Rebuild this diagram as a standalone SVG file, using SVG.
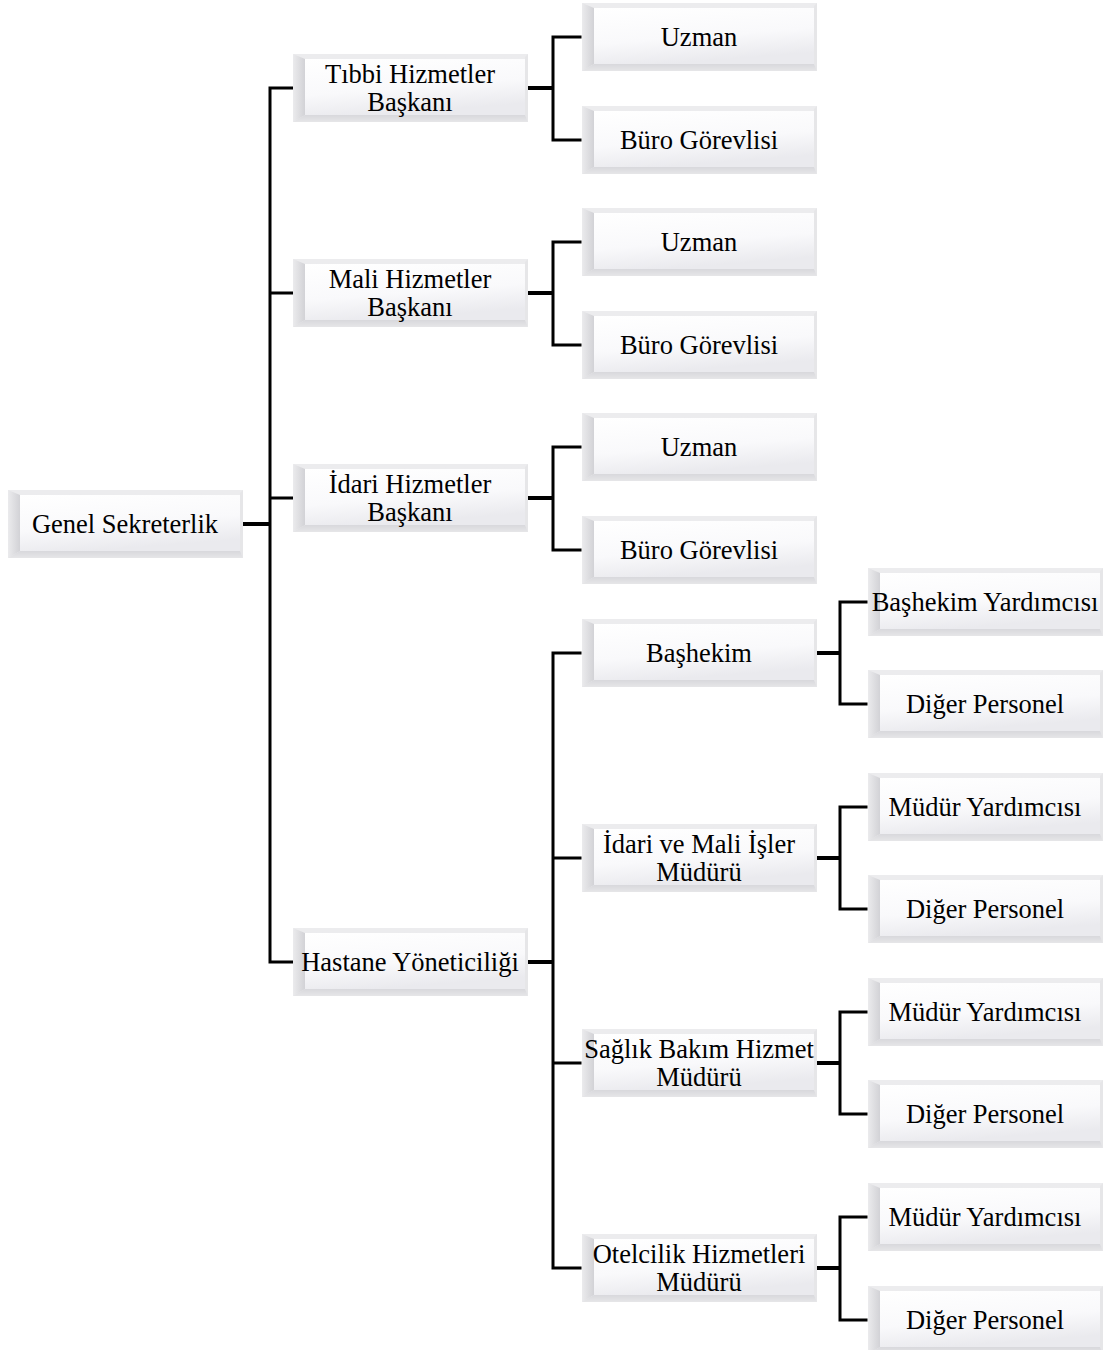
<svg xmlns="http://www.w3.org/2000/svg" xmlns:xlink="http://www.w3.org/1999/xlink" width="1105" height="1350" viewBox="0 0 1105 1350">
<style>
text{font-family:"Liberation Serif","Times New Roman",serif;font-size:26.5px;fill:#000;text-anchor:middle}
.c{fill:none;stroke:#000;stroke-width:3;stroke-linecap:square}
.t{fill:none;stroke:#000;stroke-width:4}
</style>
<defs>
<linearGradient id="face" x1="0" y1="0" x2="0.3" y2="1">
<stop offset="0" stop-color="#ffffff"/><stop offset="0.6" stop-color="#f9f9fb"/><stop offset="1" stop-color="#eaeaee"/>
</linearGradient>
<linearGradient id="lb" x1="0" y1="0" x2="1" y2="0">
<stop offset="0" stop-color="#ebebed"/><stop offset="1" stop-color="#d2d2d6"/>
</linearGradient>
<linearGradient id="bb" x1="0" y1="0" x2="0" y2="1">
<stop offset="0" stop-color="#d8d8dc"/><stop offset="1" stop-color="#e6e6e8"/>
</linearGradient>
<g id="box">
<rect x="0" y="0" width="235" height="68" fill="#ececee"/>
<polygon points="0,0 235,0 232,3 12,5" fill="#ececee"/>
<polygon points="0,0 12,5 12,61 0,68" fill="url(#lb)"/>
<polygon points="235,0 235,68 232,61 232,3" fill="#e6e6e8"/>
<polygon points="0,68 235,68 232,61 12,61" fill="url(#bb)"/>
<rect x="12" y="5" width="220" height="56" fill="url(#face)"/>
</g>
</defs>
<g id="connectors">
<path class="t" d="M243,524H270M528,88H553M528,293H553M528,498H553M528,962H553M817,653H840M817,858H840M817,1063H840M817,1268H840"/>
<path class="c" d="M270,88V962M270,88H293M270,293H293M270,498H293M270,962H293"/>
<path class="c" d="M553,37V140M553,37H580M553,140H580"/>
<path class="c" d="M553,242V345M553,242H580M553,345H580"/>
<path class="c" d="M553,447V550M553,447H580M553,550H580"/>
<path class="c" d="M553,653V1268M553,653H580M553,858H580M553,1063H580M553,1268H580"/>
<path class="c" d="M840,602V704M840,602H866M840,704H866"/>
<path class="c" d="M840,807V909M840,807H866M840,909H866"/>
<path class="c" d="M840,1012V1114M840,1012H866M840,1114H866"/>
<path class="c" d="M840,1217V1320M840,1217H866M840,1320H866"/>
</g>
<g id="n-genel"><use href="#box" x="8" y="490"/><text x="125" y="533">Genel Sekreterlik</text></g>
<g id="n-tibbi"><use href="#box" x="293" y="54"/><text x="410" y="83">Tıbbi Hizmetler</text><text x="410" y="111">Başkanı</text></g>
<g id="n-mali"><use href="#box" x="293" y="259"/><text x="410" y="288">Mali Hizmetler</text><text x="410" y="316">Başkanı</text></g>
<g id="n-idari"><use href="#box" x="293" y="464"/><text x="410" y="493">İdari Hizmetler</text><text x="410" y="521">Başkanı</text></g>
<g id="n-hastane"><use href="#box" x="293" y="928"/><text x="410" y="971">Hastane Yöneticiliği</text></g>
<g id="n-uzman1"><use href="#box" x="582" y="3"/><text x="699" y="46">Uzman</text></g>
<g id="n-buro1"><use href="#box" x="582" y="106"/><text x="699" y="149">Büro Görevlisi</text></g>
<g id="n-uzman2"><use href="#box" x="582" y="208"/><text x="699" y="251">Uzman</text></g>
<g id="n-buro2"><use href="#box" x="582" y="311"/><text x="699" y="354">Büro Görevlisi</text></g>
<g id="n-uzman3"><use href="#box" x="582" y="413"/><text x="699" y="456">Uzman</text></g>
<g id="n-buro3"><use href="#box" x="582" y="516"/><text x="699" y="559">Büro Görevlisi</text></g>
<g id="n-bashekim"><use href="#box" x="582" y="619"/><text x="699" y="662">Başhekim</text></g>
<g id="n-idarimali"><use href="#box" x="582" y="824"/><text x="699" y="853">İdari ve Mali İşler</text><text x="699" y="881">Müdürü</text></g>
<g id="n-saglik"><use href="#box" x="582" y="1029"/><text x="699" y="1058">Sağlık Bakım Hizmet</text><text x="699" y="1086">Müdürü</text></g>
<g id="n-otel"><use href="#box" x="582" y="1234"/><text x="699" y="1263">Otelcilik Hizmetleri</text><text x="699" y="1291">Müdürü</text></g>
<g id="n-bhy"><use href="#box" x="868" y="568"/><text x="985" y="611">Başhekim Yardımcısı</text></g>
<g id="n-dp1"><use href="#box" x="868" y="670"/><text x="985" y="713">Diğer Personel</text></g>
<g id="n-my2"><use href="#box" x="868" y="773"/><text x="985" y="816">Müdür Yardımcısı</text></g>
<g id="n-dp2"><use href="#box" x="868" y="875"/><text x="985" y="918">Diğer Personel</text></g>
<g id="n-my3"><use href="#box" x="868" y="978"/><text x="985" y="1021">Müdür Yardımcısı</text></g>
<g id="n-dp3"><use href="#box" x="868" y="1080"/><text x="985" y="1123">Diğer Personel</text></g>
<g id="n-my4"><use href="#box" x="868" y="1183"/><text x="985" y="1226">Müdür Yardımcısı</text></g>
<g id="n-dp4"><use href="#box" x="868" y="1286"/><text x="985" y="1329">Diğer Personel</text></g>
</svg>
